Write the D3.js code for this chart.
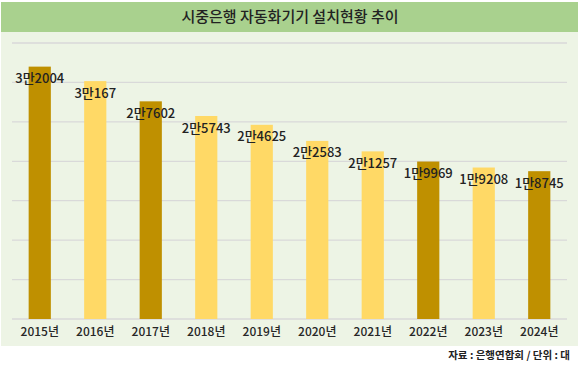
<!DOCTYPE html>
<html>
<head>
<meta charset="utf-8">
<style>
  body { margin: 0; background: #fff; }
  svg text { font-family: "Noto Sans CJK KR", "Noto Sans", sans-serif; }
</style>
</head>
<body>
<svg width="580" height="368"></svg>
<script src="https://cdn.jsdelivr.net/npm/d3@7"></script>
<script>

// 시중은행 자동화기기 설치현황 (단위: 대)
var years = ["2015년", "2016년", "2017년", "2018년", "2019년", "2020년", "2021년", "2022년", "2023년", "2024년"];
var counts = [32004, 30167, 27602, 25743, 24625, 22583, 21257, 19969, 19208, 18745];
var barColors = ["#bf9000", "#ffd966", "#bf9000", "#ffd966", "#ffd966", "#ffd966", "#ffd966", "#bf9000", "#ffd966", "#bf9000"];
var yTicks = [0, 5000, 10000, 15000, 20000, 25000, 30000, 35000];

var svg = d3.select("svg");

// panel + title bar
svg.append("rect").attr("x", 1).attr("y", 2).attr("width", 577).attr("height", 344).attr("fill", "#edf4e5");
svg.append("rect").attr("x", 1).attr("y", 2).attr("width", 577).attr("height", 30).attr("fill", "#a9d18e");
svg.append("text")
    .attr("x", 290).attr("y", 17).attr("dy", "0.35em")
    .attr("text-anchor", "middle")
    .attr("font-size", 15).attr("font-weight", 500)
    .attr("fill", "#222")
    .text("시중은행 자동화기기 설치현황 추이");

var x = d3.scaleBand()
    .domain(years)
    .range([12, 567])
    .paddingInner(0.6)
    .paddingOuter(0.3);

var y = d3.scaleLinear()
    .domain([0, 35000])
    .range([319, 43]);

// gridlines
svg.append("g")
  .selectAll("line")
  .data(yTicks)
  .enter().append("line")
    .attr("x1", 12).attr("x2", 567)
    .attr("y1", function(d) { return y(d); })
    .attr("y2", function(d) { return y(d); })
    .attr("stroke", "#d9d9d9")
    .attr("stroke-width", 1.3);

// bars
svg.append("g")
  .selectAll("rect")
  .data(counts)
  .enter().append("rect")
    .attr("x", function(d, i) { return x(years[i]); })
    .attr("y", function(d) { return y(d); })
    .attr("width", x.bandwidth())
    .attr("height", function(d) { return y(0) - y(d); })
    .attr("fill", function(d, i) { return barColors[i]; });

// value labels
svg.append("g")
  .selectAll("text")
  .data(counts)
  .enter().append("text")
    .attr("x", function(d, i) { return x(years[i]) + x.bandwidth() / 2; })
    .attr("y", function(d) { return y(d) + 12; })
    .attr("dy", "0.35em")
    .attr("text-anchor", "middle")
    .attr("font-size", 13)
    .attr("font-weight", 500)
    .attr("fill", "#222")
    .text(function(d) { return Math.floor(d / 10000) + "만" + (d % 10000); });

// x axis labels
svg.append("g")
  .selectAll("text")
  .data(years)
  .enter().append("text")
    .attr("x", function(d) { return x(d) + x.bandwidth() / 2; })
    .attr("y", 332)
    .attr("dy", "0.35em")
    .attr("text-anchor", "middle")
    .attr("font-size", 12)
    .attr("font-weight", 500)
    .attr("fill", "#262626")
    .text(function(d) { return d; });

// source
svg.append("text")
    .attr("x", 570).attr("y", 355)
    .attr("dy", "0.35em")
    .attr("text-anchor", "end")
    .attr("font-size", 10.5)
    .attr("font-weight", 700)
    .attr("fill", "#222")
    .text("자료 : 은행연합회 / 단위 : 대");

</script>
</body>
</html>
